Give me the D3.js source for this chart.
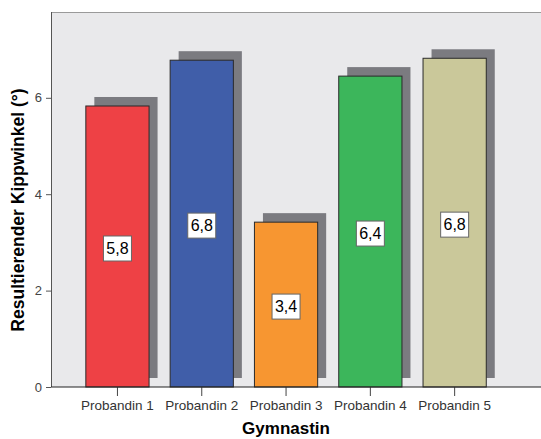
<!DOCTYPE html>
<html>
<head>
<meta charset="utf-8">
<script src="https://cdn.jsdelivr.net/npm/d3@7"></script>
<style>
  body { margin: 0; background: #fff; }
  svg { display: block; font-family: Arial, "Liberation Sans", sans-serif; }
</style>
</head>
<body>
<div id="chart"></div>
<script>
// data
const categories = ["Probandin 1", "Probandin 2", "Probandin 3", "Probandin 4", "Probandin 5"];
const values = [5.83, 6.78, 3.42, 6.45, 6.82];
const labels = ["5,8", "6,8", "3,4", "6,4", "6,8"];
const colors = ["#ee4145", "#405ea9", "#f79631", "#3cb65b", "#cac89a"];
const yTicks = [0, 2, 4, 6];

const width = 541, height = 439;
const margin = { top: 12, right: 0, bottom: 52, left: 51 };
const innerW = width - margin.left - margin.right;
const innerH = height - margin.top - margin.bottom;

const svg = d3.select("#chart").append("svg")
  .attr("width", width)
  .attr("height", height);

const g = svg.append("g")
  .attr("transform", `translate(${margin.left},${margin.top})`);

const x = d3.scaleBand()
  .domain(categories)
  .range([24.3, 445.8])
  .paddingInner(0.25)
  .paddingOuter(0.125);

const y = d3.scaleLinear()
  .domain([0, 7.78])
  .range([innerH, 0]);

// plot background
g.append("rect")
  .attr("width", innerW)
  .attr("height", innerH)
  .attr("fill", "#e9e9eb");

g.append("line")
  .attr("x1", 0).attr("x2", innerW)
  .attr("y1", 0.5).attr("y2", 0.5)
  .attr("stroke", "#9a9a9a");

const rows = categories.map((c, i) => ({ c, v: values[i], label: labels[i], color: colors[i] }));

// shadows
g.selectAll(".shadow")
  .data(rows)
  .join("rect")
  .attr("class", "shadow")
  .attr("x", d => x(d.c) + 8.5)
  .attr("y", d => y(d.v) - 9)
  .attr("width", x.bandwidth())
  .attr("height", d => innerH - y(d.v))
  .attr("fill", "#7b7b80");

// bars
g.selectAll(".bar")
  .data(rows)
  .join("rect")
  .attr("class", "bar")
  .attr("x", d => x(d.c))
  .attr("y", d => y(d.v))
  .attr("width", x.bandwidth())
  .attr("height", d => innerH - y(d.v))
  .attr("fill", d => d.color)
  .attr("stroke", "#2a2a2a")
  .attr("stroke-width", 1);

// value labels
const lab = g.selectAll(".lab")
  .data(rows)
  .join("g")
  .attr("class", "lab")
  .attr("transform", d => `translate(${x(d.c) + x.bandwidth() / 2},${(y(d.v) + innerH) / 2 + 2})`);

lab.append("rect")
  .attr("x", -14).attr("y", -12.5)
  .attr("width", 28).attr("height", 25)
  .attr("fill", "#fff")
  .attr("stroke", "#666");

lab.append("text")
  .attr("text-anchor", "middle")
  .attr("dy", "0.36em")
  .style("font-size", "16px")
  .attr("fill", "#000")
  .text(d => d.label);

// axes
const yAxis = g.append("g")
  .call(d3.axisLeft(y).tickValues(yTicks).tickSize(5).tickSizeOuter(0).tickPadding(4));
yAxis.select(".domain").remove();
yAxis.selectAll(".tick line").attr("stroke", "#555");
yAxis.selectAll("text").style("font-size", "13px").attr("fill", "#444");

g.append("line")
  .attr("x1", 0.5).attr("x2", 0.5)
  .attr("y1", 0).attr("y2", innerH)
  .attr("stroke", "#555");

const xAxis = g.append("g")
  .attr("transform", `translate(0,${innerH})`)
  .call(d3.axisBottom(x).tickSize(9).tickSizeOuter(0).tickPadding(4));
xAxis.select(".domain").remove();
xAxis.selectAll(".tick line").attr("stroke", "#444");
xAxis.selectAll("text").style("font-size", "13.5px").attr("fill", "#333");

g.append("line")
  .attr("x1", 0).attr("x2", innerW)
  .attr("y1", innerH).attr("y2", innerH)
  .attr("stroke", "#222")
  .attr("stroke-width", 1.2);

// titles
svg.append("text")
  .attr("x", margin.left + x("Probandin 3") + x.bandwidth() / 2)
  .attr("y", 434)
  .attr("text-anchor", "middle")
  .style("font-size", "17px")
  .style("font-weight", "bold")
  .text("Gymnastin");

svg.append("text")
  .attr("transform", `translate(24,210) rotate(-90)`)
  .attr("text-anchor", "middle")
  .style("font-size", "17.5px")
  .style("font-weight", "bold")
  .text("Resultierender Kippwinkel (°)");
</script>
</body>
</html>
